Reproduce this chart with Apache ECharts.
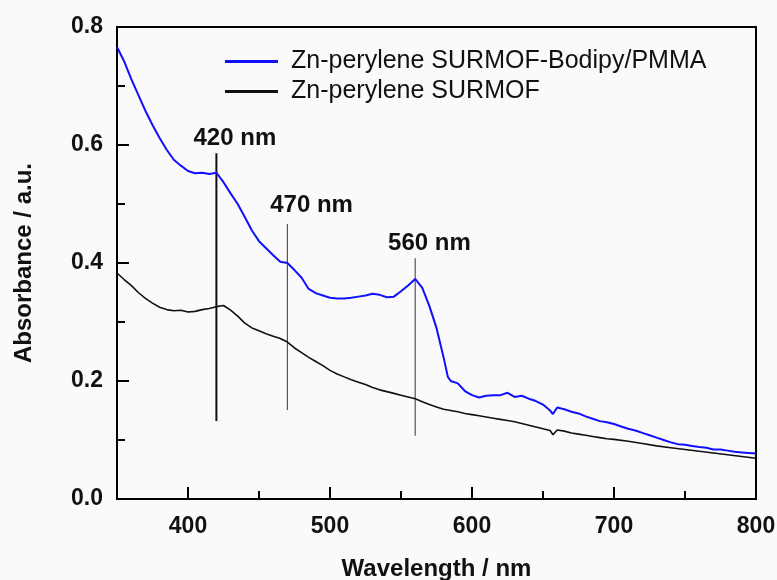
<!DOCTYPE html>
<html>
<head>
<meta charset="utf-8">
<script src="https://cdn.jsdelivr.net/npm/echarts@6/dist/echarts.min.js"></script>
<style>
html,body{margin:0;padding:0;background:#fafafa;}
#c{width:777px;height:580px;}
</style>
</head>
<body>
<div id="c"></div>
<script>
// Wavelength grid (nm) for the blue curve
var blueWl = [350,355,360,365,370,375,380,385,390,395,400,405,410,415,420,425,430,435,440,445,450,455,460,465,470,475,480,485,490,495,500,505,510,515,520,525,530,535,540,545,550,555,560,565,570,575,580,583,585,590,595,600,605,610,615,620,625,630,635,640,645,650,655,657,660,665,670,675,680,685,690,695,700,705,710,715,720,725,730,735,740,745,750,755,760,765,770,775,780,785,790,795,800];
var blueAbs = [0.766,0.742,0.712,0.685,0.658,0.634,0.612,0.592,0.575,0.565,0.556,0.552,0.553,0.551,0.553,0.537,0.518,0.500,0.478,0.455,0.437,0.425,0.413,0.402,0.400,0.388,0.375,0.356,0.349,0.345,0.341,0.340,0.340,0.341,0.343,0.345,0.348,0.346,0.342,0.343,0.352,0.362,0.373,0.358,0.327,0.290,0.240,0.207,0.200,0.196,0.183,0.176,0.172,0.175,0.176,0.176,0.180,0.173,0.175,0.170,0.166,0.160,0.150,0.144,0.155,0.152,0.148,0.145,0.140,0.136,0.132,0.130,0.127,0.123,0.119,0.116,0.112,0.108,0.104,0.100,0.096,0.093,0.092,0.090,0.088,0.087,0.084,0.084,0.082,0.080,0.079,0.078,0.077];

var blackWl = [350,355,360,365,370,375,380,385,390,395,400,405,410,415,420,425,430,435,440,445,450,455,460,465,470,475,480,485,490,495,500,505,510,515,520,525,530,535,540,545,550,555,560,565,570,575,580,585,590,595,600,605,610,615,620,625,630,635,640,645,650,655,657,660,665,670,675,680,685,690,695,700,710,720,730,740,750,760,770,780,790,800];
var blackAbs = [0.383,0.372,0.362,0.350,0.340,0.332,0.325,0.321,0.319,0.320,0.317,0.318,0.321,0.323,0.326,0.328,0.320,0.310,0.298,0.290,0.285,0.280,0.276,0.272,0.266,0.256,0.248,0.240,0.233,0.226,0.218,0.212,0.207,0.202,0.198,0.194,0.189,0.185,0.182,0.179,0.176,0.173,0.170,0.165,0.160,0.156,0.152,0.150,0.148,0.145,0.143,0.141,0.139,0.137,0.135,0.133,0.131,0.128,0.125,0.122,0.119,0.116,0.109,0.117,0.115,0.112,0.110,0.108,0.106,0.104,0.102,0.101,0.098,0.094,0.090,0.087,0.084,0.081,0.078,0.075,0.072,0.069];

// Tick labels
var xTickLabels = [400, 500, 600, 700, 800];
var yTickLabels = [0.0, 0.2, 0.4, 0.6, 0.8];

// Annotation vertical lines
var annWl = [420, 470, 560];
var annLow = [0.132, 0.151, 0.107];
var annHigh = [0.586, 0.466, 0.408];
var annText = ['420 nm', '470 nm', '560 nm'];
var annLabelX = [433, 487, 570];
var annLabelY = [0.612, 0.498, 0.434];

var seriesNames = ['Zn-perylene SURMOF-Bodipy/PMMA', 'Zn-perylene SURMOF'];

function pairs(xs, ys){ return xs.map(function(x,i){ return [x, ys[i]]; }); }

var annSeries = annWl.map(function(w, i){
  return {
    type: 'line', silent: true, symbol: 'none',
    data: [[w, annLow[i]], [w, annHigh[i]]],
    lineStyle: { color: i === 0 ? '#111' : '#555', width: i === 0 ? 2 : 1.2 },
    z: 1
  };
});

var font = 'Liberation Sans, Arial';
var chart = echarts.init(document.getElementById('c'));
chart.setOption({
  backgroundColor: '#fafafa',
  animation: false,
  grid: { left: 117, right: 21, top: 27, bottom: 81, containLabel: false, outerBoundsMode: 'none',
          show: true, borderColor: '#000', borderWidth: 2, backgroundColor: 'transparent' },
  legend: {
    left: 220, top: 44, orient: 'vertical', itemGap: 5,
    icon: 'rect', itemWidth: 53, itemHeight: 3,
    textStyle: { fontFamily: font, fontSize: 25, color: '#111', padding: [0,0,0,8] },
    data: seriesNames
  },
  xAxis: [{
    type: 'value', min: 350, max: 800, interval: 50,
    name: 'Wavelength / nm', nameLocation: 'middle', nameGap: 58,
    nameTextStyle: { fontFamily: font, fontWeight: 'bold', fontSize: 24, color: '#111' },
    axisLine: { lineStyle: { color: '#000', width: 2 } },
    axisTick: { inside: true, length: 12, customValues: xTickLabels, lineStyle: { width: 2, color: '#000' } },
    splitLine: { show: false },
    axisLabel: {
      margin: 16, fontFamily: font, fontWeight: 'bold', fontSize: 23, color: '#111',
      customValues: xTickLabels
    }
  }, {
    type: 'value', min: 350, max: 800, interval: 50, position: 'bottom',
    axisLine: { show: false },
    axisTick: { inside: true, length: 8, lineStyle: { width: 2, color: '#000' } },
    axisLabel: { show: false }, splitLine: { show: false }
  }],
  yAxis: [{
    type: 'value', min: 0, max: 0.8, interval: 0.1,
    name: 'Absorbance / a.u.', nameLocation: 'middle', nameGap: 81,
    nameTextStyle: { fontFamily: font, fontWeight: 'bold', fontSize: 24, color: '#111' },
    axisLine: { show: true, lineStyle: { color: '#000', width: 2 } },
    axisTick: { show: true, inside: true, length: 12, customValues: yTickLabels, lineStyle: { width: 2, color: '#000' } },
    splitLine: { show: false },
    axisLabel: {
      margin: 14, fontFamily: font, fontWeight: 'bold', fontSize: 23, color: '#111',
      customValues: yTickLabels,
      formatter: function(v){ return v.toFixed(1); }
    }
  }, {
    type: 'value', min: 0, max: 0.8, interval: 0.1, position: 'left',
    axisLine: { show: false },
    axisTick: { show: true, inside: true, length: 8, lineStyle: { width: 2, color: '#000' } },
    axisLabel: { show: false }, splitLine: { show: false }
  }],
  series: annSeries.concat([
    {
      name: seriesNames[1], type: 'line', symbol: 'none', data: pairs(blackWl, blackAbs),
      lineStyle: { color: '#111', width: 1.6 }, itemStyle: { color: '#111' }, z: 3
    },
    {
      name: seriesNames[0], type: 'line', symbol: 'none', data: pairs(blueWl, blueAbs),
      lineStyle: { color: '#1010ff', width: 2 }, itemStyle: { color: '#1010ff' }, z: 4
    },
    {
      type: 'scatter', silent: true, symbolSize: 0, itemStyle: { opacity: 1 },
      data: annText.map(function(t, i){ return { name: t, value: [annLabelX[i], annLabelY[i]] }; }),
      label: { show: true, position: 'inside', formatter: '{b}', fontFamily: font, fontWeight: 'bold', fontSize: 24, color: '#111' },
      z: 5
    }
  ])
});
</script>
</body>
</html>
